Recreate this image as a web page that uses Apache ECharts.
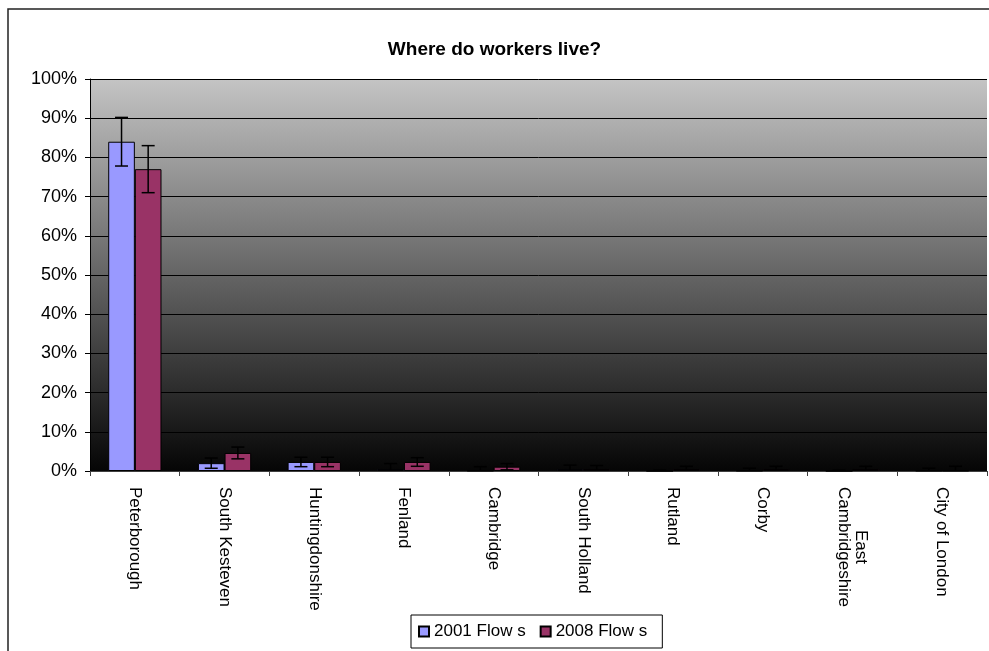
<!DOCTYPE html>
<html>
<head>
<meta charset="utf-8">
<script src="https://cdn.jsdelivr.net/npm/echarts@6/dist/echarts.min.js"></script>
<style>html,body{margin:0;padding:0;background:#fff;}#chart{width:989px;height:651px;}</style>
</head>
<body>
<div id="chart"></div>
<script>
const categories = ['Peterborough','South Kesteven','Huntingdonshire','Fenland','Cambridge','South Holland','Rutland','Corby','East Cambridgeshire','City of London'];
const flows2001 = [84.0, 2.0, 2.3, 0.5, 0.1, 0.5, 0.0, 0.1, 0.0, 0.1];
const flows2008 = [77.0, 4.6, 2.3, 2.3, 1.1, 0.5, 0.5, 0.5, 0.5, 0.1];
const err2001 = [6.2, 1.3, 1.2, 1.4, 1.0, 1.0, 0.2, 0.6, 0.2, 0.6];
const err2008 = [6.0, 1.5, 1.2, 1.1, 0.8, 0.9, 0.7, 0.7, 0.7, 1.1];
const seriesNames = ['2001 Flow s', '2008 Flow s'];
const yTicks = [0, 10, 20, 30, 40, 50, 60, 70, 80, 90, 100];

const CAT_GAP = 0.406;
const FONT = 'Liberation Sans, Arial, sans-serif';

function errRender(sign) {
  return function (params, api) {
    const i = api.value(0), v = api.value(1), e = api.value(2);
    const band = api.size([1, 0])[0];
    const bw = band * (1 - CAT_GAP) / 2;
    const x = api.coord([i, v])[0] + sign * bw / 2;
    const yT = api.coord([i, v + e])[1];
    const yB = api.coord([i, Math.max(0, v - e)])[1];
    const cap = 6.5;
    const st = { stroke: '#000', lineWidth: 1.5 };
    return {
      type: 'group',
      children: [
        { type: 'line', shape: { x1: x, y1: yT, x2: x, y2: yB }, style: st },
        { type: 'line', shape: { x1: x - cap, y1: yT, x2: x + cap, y2: yT }, style: st },
        { type: 'line', shape: { x1: x - cap, y1: yB, x2: x + cap, y2: yB }, style: st }
      ]
    };
  };
}

const chart = echarts.init(document.getElementById('chart'));
chart.setOption({
  animation: false,
  backgroundColor: '#fff',
  textStyle: { fontFamily: FONT },
  title: {
    text: 'Where do workers live?',
    left: 'center',
    top: 35,
    textStyle: { fontSize: 19, fontWeight: 'bold', color: '#000', fontFamily: FONT }
  },
  graphic: [{
    type: 'rect',
    shape: { x: 8, y: 9, width: 1000, height: 700 },
    style: { fill: 'none', stroke: '#222', lineWidth: 1.5 },
    silent: true,
    z: -1
  }],
  legend: {
    data: seriesNames,
    left: 411,
    top: 615,
    orient: 'horizontal',
    padding: [8, 15, 8, 7],
    itemGap: 14,
    itemWidth: 10,
    itemHeight: 10,
    icon: 'rect',
    borderColor: '#000',
    borderWidth: 1,
    backgroundColor: '#fff',
    textStyle: { fontSize: 17, color: '#000', fontFamily: FONT }
  },
  grid: {
    left: 90,
    right: 2,
    top: 79,
    bottom: 180,
    show: true,
    borderWidth: 0,
    backgroundColor: {
      type: 'linear', x: 0, y: 0, x2: 0, y2: 1,
      colorStops: [{ offset: 0, color: '#c4c4c4' }, { offset: 1, color: '#050505' }]
    }
  },
  xAxis: {
    type: 'category',
    data: categories,
    axisLine: { lineStyle: { color: '#404040', width: 1 } },
    axisTick: { show: true, length: 5, lineStyle: { color: '#404040' } },
    axisLabel: {
      interval: 0,
      rotate: -90,
      margin: 16,
      fontSize: 17,
      color: '#000',
      fontFamily: FONT,
      formatter: function (v) {
        return v === 'East Cambridgeshire' ? '{e|East}\n{c|Cambridgeshire}' : v;
      },
      rich: {
        e: { width: 120, align: 'center', fontSize: 17, color: '#000', fontFamily: FONT },
        c: { fontSize: 17, color: '#000', fontFamily: FONT }
      }
    }
  },
  yAxis: {
    type: 'value',
    min: yTicks[0],
    max: yTicks[yTicks.length - 1],
    interval: yTicks[1] - yTicks[0],
    axisLine: { show: true, lineStyle: { color: '#000', width: 1 } },
    axisTick: { show: true, length: 5, lineStyle: { color: '#000' } },
    axisLabel: { formatter: '{value}%', fontSize: 18, color: '#000', margin: 13, fontFamily: FONT },
    splitLine: { show: true, lineStyle: { color: '#000', width: 1 } }
  },
  series: [
    {
      name: seriesNames[0],
      type: 'bar',
      data: flows2001,
      barGap: '0%',
      barCategoryGap: (CAT_GAP * 100) + '%',
      itemStyle: { color: '#9999FF', borderColor: '#000', borderWidth: 1 }
    },
    {
      name: seriesNames[1],
      type: 'bar',
      data: flows2008,
      barGap: '0%',
      barCategoryGap: (CAT_GAP * 100) + '%',
      itemStyle: { color: '#993366', borderColor: '#000', borderWidth: 1 }
    },
    {
      type: 'custom',
      renderItem: errRender(-1),
      data: flows2001.map((v, i) => [i, v, err2001[i]]),
      encode: { x: 0, y: 1 },
      z: 5,
      clip: true
    },
    {
      type: 'custom',
      renderItem: errRender(1),
      data: flows2008.map((v, i) => [i, v, err2008[i]]),
      encode: { x: 0, y: 1 },
      z: 5,
      clip: true
    }
  ]
});
</script>
</body>
</html>
